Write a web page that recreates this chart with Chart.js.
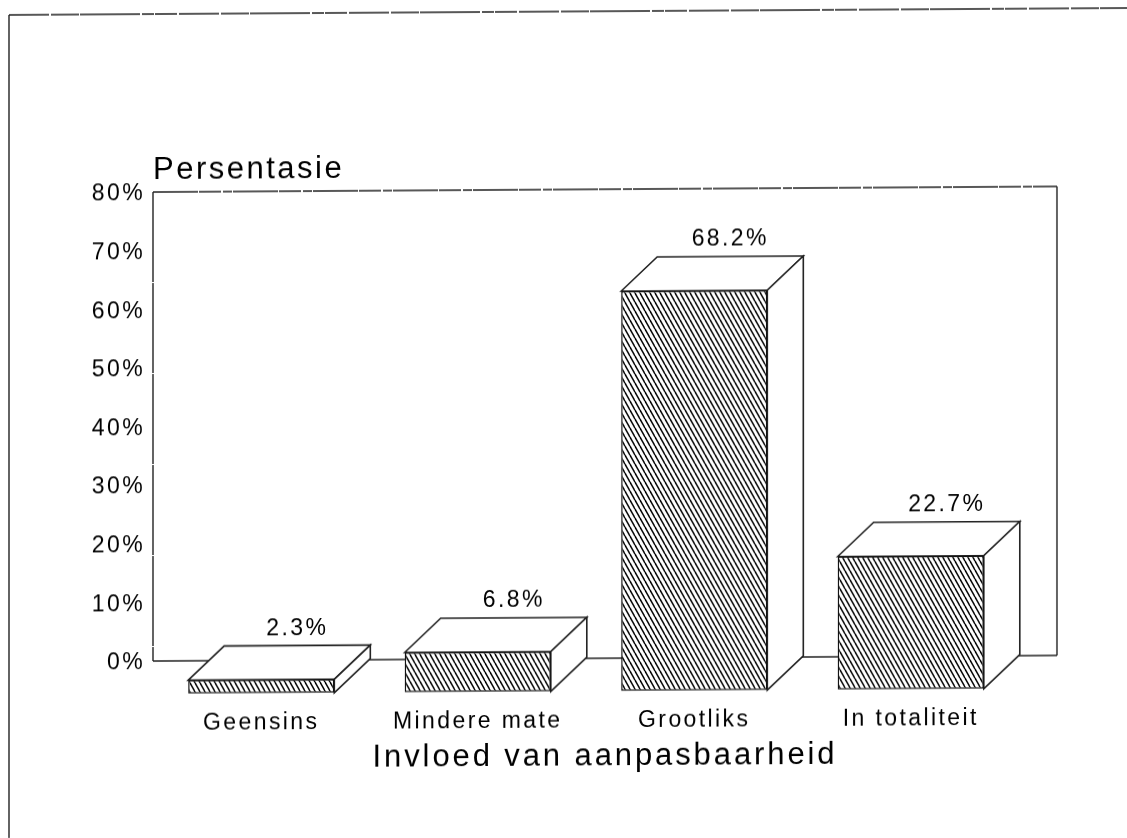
<!DOCTYPE html>
<html>
<head>
<meta charset="utf-8">
<title>Invloed van aanpasbaarheid</title>
<script src="https://cdn.jsdelivr.net/npm/chart.js@4"></script>
<style>
    html, body { margin: 0; background: #fff; overflow: hidden; }
    /* the scan is slightly skewed: everything climbs to the right */
    #chart { display: block; transform-origin: 0 0; transform: matrix(1, -0.0062, 0, 1, 0, 0); }
</style>
</head>
<body>
<canvas id="chart" width="1127" height="838"></canvas>
<script>
const categories = ["Geensins", "Mindere mate", "Grootliks", "In totaliteit"];
const percentages = [2.3, 6.8, 68.2, 22.7];
const yTicks = [0, 10, 20, 30, 40, 50, 60, 70, 80];
const yTitle = "Persentasie";
const xTitle = "Invloed van aanpasbaarheid";

const FONT = '"Liberation Sans", Arial, sans-serif';
const INK = "#000";
const TICK_SPACING = "2.4px";

// depth of the fake 3D, the fronts of the bars sit this far in front of the wall
const DEPTH_X = 36;
const DEPTH_Y = 34;
const FRONT_SHIFT = 5.6; // same thing in axis units, 33px

// Hatching of the bar fronts
function makeHatch() {
    let tile = document.createElement("canvas");
    tile.width = 5;
    tile.height = 9;
    let c = tile.getContext("2d");
    c.fillStyle = "#fff";
    c.fillRect(0, 0, 5, 9);
    c.strokeStyle = "#000";
    c.lineWidth = 1.5;
    [-5, 0, 5].forEach(dx => {
        c.beginPath();
        c.moveTo(dx, 0);
        c.lineTo(dx + 5, 9);
        c.stroke();
    });
    return document.createElement("canvas").getContext("2d").createPattern(tile, "repeat");
}

function polygon(ctx, pts) {
    ctx.beginPath();
    pts.forEach((p, i) => i ? ctx.lineTo(p[0], p[1]) : ctx.moveTo(p[0], p[1]));
    ctx.closePath();
    ctx.fill();
    ctx.stroke();
}

function brokenLine(ctx, x1, y1, x2, y2, dash) {
    ctx.setLineDash(dash);
    ctx.beginPath();
    ctx.moveTo(x1, y1);
    ctx.lineTo(x2, y2);
    ctx.stroke();
    ctx.setLineDash([]);
}

const box3d = {
    id: "box3d",
    beforeDraw(chart) {
        // letter spacing for the tick labels, the library has no option for it
        chart.ctx.letterSpacing = TICK_SPACING;
    },
    beforeDatasetsDraw(chart) {
        let ctx = chart.ctx;
        let y = chart.scales.y;
        let x = chart.scales.x;
        let top = y.getPixelForValue(80);
        let floor = y.getPixelForValue(0);
        let wallRight = x.right + 38;

        ctx.save();
        ctx.strokeStyle = "#222";
        ctx.lineWidth = 1.4;

        // sheet frame
        brokenLine(ctx, 9, 15, 1127, 15, [40, 2, 28, 1, 60, 2, 12, 1, 22, 2]);
        brokenLine(ctx, 9, 15, 9, 838, []);

        // back wall
        brokenLine(ctx, x.left, top, wallRight, top, [45, 1, 22, 2, 9, 1]);
        brokenLine(ctx, x.left, top, x.left, floor, [90, 1]);
        brokenLine(ctx, wallRight, top, wallRight, floor, []);
        brokenLine(ctx, x.left, floor, wallRight, floor, []);

        // top and side faces of the bars
        ctx.fillStyle = "#fff";
        ctx.lineWidth = 1.6;
        chart.getDatasetMeta(0).data.forEach(bar => {
            let l = bar.x - bar.width / 2;
            let r = bar.x + bar.width / 2;
            polygon(ctx, [[l, bar.y], [l + DEPTH_X, bar.y - DEPTH_Y], [r + DEPTH_X, bar.y - DEPTH_Y], [r, bar.y]]);
            polygon(ctx, [[r, bar.y], [r + DEPTH_X, bar.y - DEPTH_Y], [r + DEPTH_X, bar.base - DEPTH_Y], [r, bar.base]]);
        });
        ctx.restore();
    },
    afterDatasetsDraw(chart) {
        let ctx = chart.ctx;
        ctx.save();
        ctx.fillStyle = INK;
        ctx.textBaseline = "middle";

        // value labels above the boxes
        ctx.font = "23px " + FONT;
        ctx.letterSpacing = TICK_SPACING;
        ctx.textAlign = "center";
        chart.getDatasetMeta(0).data.forEach((bar, i) => {
            ctx.fillText(percentages[i].toFixed(1) + "%", bar.x + DEPTH_X, bar.y - DEPTH_Y - 17);
        });

        // axis titles
        ctx.font = "31px " + FONT;
        ctx.letterSpacing = "2.5px";
        ctx.textAlign = "left";
        ctx.fillText(yTitle, chart.scales.x.left, 171);
        ctx.letterSpacing = "2.9px";
        ctx.textAlign = "center";
        ctx.fillText(xTitle, 605, 760);
        ctx.restore();
    }
};

let gaugeMin = -6.48;

new Chart(document.getElementById("chart"), {
    type: "bar",
    data: {
        labels: categories,
        datasets: [{
            data: percentages,
            yAxisID: "front",
            backgroundColor: makeHatch(),
            borderColor: "#111",
            borderWidth: 1.5,
            borderSkipped: false,
            barPercentage: 0.675,
            categoryPercentage: 1
        }]
    },
    options: {
        responsive: false,
        animation: false,
        layout: { padding: { left: 10, right: 108, top: 193, bottom: 0 } },
        plugins: {
            legend: { display: false },
            tooltip: { enabled: false }
        },
        scales: {
            x: {
                grid: { display: false },
                border: { display: false },
                afterFit(scale) { scale.height = 138; },
                ticks: {
                    color: INK,
                    padding: 3,
                    maxRotation: 0,
                    font: { family: FONT, size: 23 }
                }
            },
            y: {
                min: gaugeMin,
                max: 80,
                grid: { display: false },
                border: { display: false },
                afterFit(scale) { scale.width = 143; },
                afterBuildTicks(scale) { scale.ticks = yTicks.map(v => ({ value: v })); },
                ticks: {
                    color: INK,
                    padding: 0,
                    labelOffset: 2,
                    font: { family: FONT, size: 23 },
                    callback: v => v + "%"
                }
            },
            // hidden scale for the bar fronts, same pixels per unit, shifted down
            front: {
                display: false,
                min: gaugeMin + FRONT_SHIFT,
                max: 80 + FRONT_SHIFT
            }
        }
    },
    plugins: [box3d]
});
</script>
</body>
</html>
